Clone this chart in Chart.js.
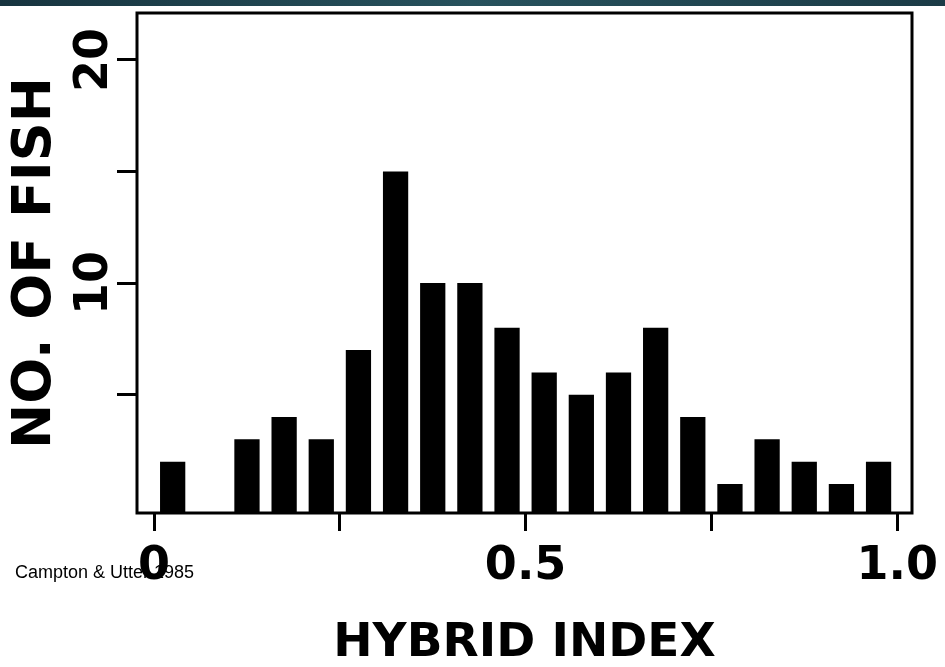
<!DOCTYPE html>
<html lang="en">

<head>
    <meta charset="UTF-8">
    <script src="https://cdn.jsdelivr.net/npm/chart.js"></script>
    <title>Hybrid index</title>
    <style>
        body { margin: 0; background: #ffffff; }
        .faixa { position: absolute; left: 0; top: 0; width: 945px; height: 6px;
                 background: linear-gradient(90deg, #17343f, #27525d, #1b3b46); }
        .grafico { position: relative; width: 945px; height: 667px; }
    </style>
</head>

<body>
    <div class="grafico">
        <canvas id="myChart"></canvas>
    </div>
    <div class="faixa"></div>
</body>

</html>

<script type="text/javascript">
    // centro de cada classe do indice hibrido (a classe 0.075 esta vazia)
    const classes = [0.025, 0.125, 0.175, 0.225, 0.275, 0.325, 0.375, 0.425, 0.475,
        0.525, 0.575, 0.625, 0.675, 0.725, 0.775, 0.825, 0.875, 0.925, 0.975]
    const peixes = [2, 3, 4, 3, 7, 15, 10, 10, 8, 6, 5, 6, 8, 4, 1, 3, 2, 1, 2]

    const xTicks = [0, 0.25, 0.5, 0.75, 1]
    const xLabels = ['0', '', '0.5', '', '1.0']
    const yTicks = [5, 10, 15, 20]
    const yLabels = ['', '10', '', '20']

    const fonte = 'DejaVu Sans'

    // moldura em volta da area do grafico + credito
    const moldura = {
        id: 'moldura',
        afterDatasetsDraw(chart) {
            const { ctx, chartArea } = chart
            ctx.save()
            ctx.strokeStyle = '#000'
            ctx.lineWidth = 3
            ctx.strokeRect(chartArea.left, chartArea.top,
                chartArea.right - chartArea.left, chartArea.bottom - chartArea.top)
            ctx.restore()
        },
        afterDraw(chart) {
            const ctx = chart.ctx
            ctx.save()
            ctx.fillStyle = '#000'
            ctx.font = '18px "Liberation Sans"'
            ctx.textBaseline = 'middle'
            ctx.fillText('Campton & Utter 1985', 15, 573)
            ctx.restore()
        }
    }

    const data = {
        datasets: [{
            data: classes.map((c, i) => ({ x: c, y: peixes[i] })),
            backgroundColor: '#000',
            borderWidth: 0,
            base: -0.3,
            barPercentage: 0.68,
            categoryPercentage: 1
        }]
    }

    const config = {
        type: 'bar',
        data: data,
        options: {
            responsive: true,
            maintainAspectRatio: false,
            animation: false,
            layout: { padding: { top: 13, right: 33, left: 0, bottom: 0 } },
            plugins: {
                legend: { display: false },
                tooltip: { enabled: false }
            },
            scales: {
                x: {
                    type: 'linear',
                    min: -0.023,
                    max: 1.02,
                    offset: false,
                    afterBuildTicks: s => { s.ticks = xTicks.map(v => ({ value: v })) },
                    afterFit: s => { s.height = 154; s.paddingLeft = 0; s.paddingRight = 0 },
                    border: { display: false },
                    grid: { offset: false, drawOnChartArea: false, tickLength: 18, tickWidth: 3, tickColor: '#000' },
                    ticks: {
                        autoSkip: false,
                        maxRotation: 0,
                        padding: 8,
                        color: '#000',
                        font: { family: fonte, weight: 'bold', size: 46 },
                        callback: (v, i) => xLabels[i]
                    },
                    title: {
                        display: true,
                        text: 'HYBRID INDEX',
                        color: '#000',
                        font: { family: fonte, weight: 'bold', size: 47, lineHeight: 1 },
                        padding: { top: 0, bottom: 0 }
                    }
                },
                y: {
                    min: -0.3,
                    max: 22.1,
                    afterBuildTicks: s => { s.ticks = yTicks.map(v => ({ value: v })) },
                    afterFit: s => { s.width = 137; s.paddingTop = 0; s.paddingBottom = 0 },
                    border: { display: false },
                    grid: { drawOnChartArea: false, tickLength: 20, tickWidth: 3, tickColor: '#000' },
                    ticks: {
                        minRotation: 90,
                        maxRotation: 90,
                        crossAlign: 'center',
                        padding: -10,
                        color: '#000',
                        font: { family: fonte, weight: 'bold', size: 46 },
                        callback: (v, i) => yLabels[i]
                    },
                    title: {
                        display: true,
                        text: 'NO. OF FISH',
                        color: '#000',
                        font: { family: fonte, weight: 'bold', size: 54, lineHeight: 1 },
                        padding: { top: 9, bottom: 0 }
                    }
                }
            }
        },
        plugins: [moldura]
    }

    const myChart = new Chart(document.getElementById('myChart'), config)
</script>
